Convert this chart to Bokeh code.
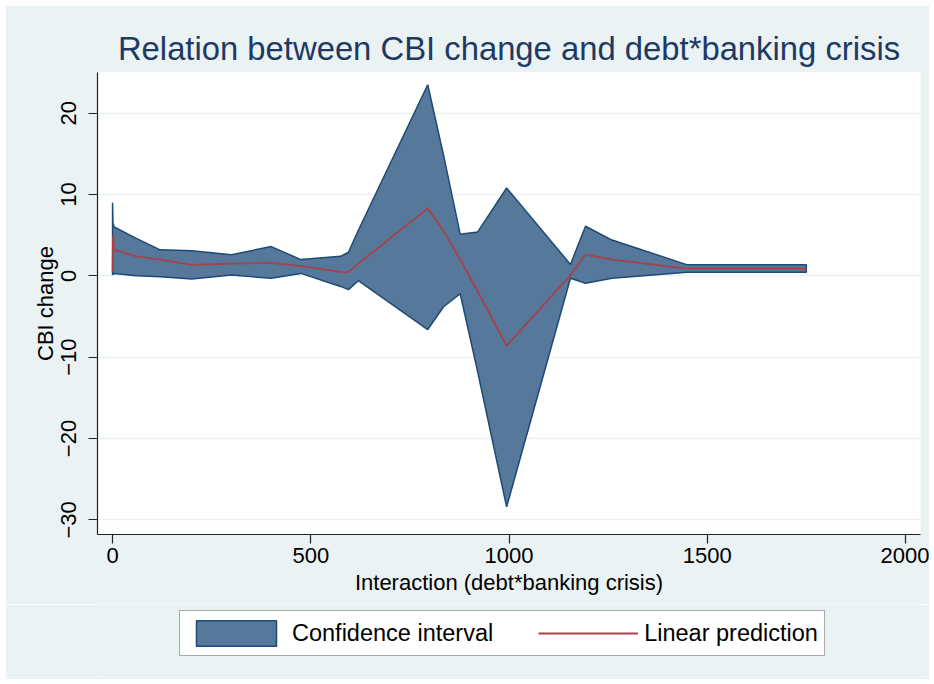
from bokeh.plotting import figure
from bokeh.models import Range1d, FixedTicker, Legend, LegendItem
from bokeh.layouts import column
from bokeh.embed import file_html
from bokeh.resources import INLINE

# ---- data ----
interaction = [0, 1, 4, 60, 120, 200, 300, 400, 475, 575, 595, 620,
               795, 835, 877, 921, 994, 1155, 1193, 1260, 1450, 1750]
ci_upper = [9.0, 6.5, 6.0, 4.6, 3.2, 3.1, 2.6, 3.6, 2.0, 2.4, 2.9, 5.6,
            23.5, 14.8, 5.1, 5.4, 10.8, 1.4, 6.1, 4.4, 1.35, 1.35]
ci_lower = [0.1, 0.2, 0.3, 0.0, -0.1, -0.4, 0.1, -0.3, 0.3, -1.3, -1.7, -0.6,
            -6.6, -3.8, -2.2, -11.8, -28.4, -0.3, -0.9, -0.3, 0.45, 0.45]
prediction = [0.5, 5.0, 3.2, 2.4, 2.0, 1.35, 1.5, 1.6, 1.2, 0.5, 0.45, 1.5,
              8.3, 5.5, 2.0, -1.9, -8.6, 0.1, 2.6, 2.0, 0.9, 0.9]

x_ticks = [0, 500, 1000, 1500, 2000]
y_ticks = [-30, -20, -10, 0, 10, 20]

title_text = "Relation between CBI change and debt*banking crisis"
x_label = "Interaction (debt*banking crisis)"
y_label = "CBI change"
series_names = ["Confidence interval", "Linear prediction"]

BG = "#EAF2F3"
FONT = "Liberation Sans"
BAND_FILL = "#55789B"
BAND_LINE = "#1F4A73"
PRED_COLOR = "#A9404A"

p = figure(width=924, height=599, output_backend="svg", toolbar_location=None,
           x_range=Range1d(-38, 2038), y_range=Range1d(-31.8, 25.0),
           min_border_left=92, min_border_right=9, min_border_top=67,
           min_border_bottom=70)
p.margin = (5, 5, 0, 5)
p.background_fill_color = "white"
p.border_fill_color = BG
p.outline_line_color = None

# confidence band as a polygon (upper edge forward, lower edge back)
band_x = interaction + interaction[::-1]
band_y = ci_upper + ci_lower[::-1]
p.patch(band_x, band_y, fill_color=BAND_FILL, fill_alpha=1.0,
        line_color=BAND_LINE, line_width=1.5)
p.line(interaction, prediction, line_color=PRED_COLOR, line_width=1.8)

# title
p.title.text = title_text
p.title.align = "center"
p.title.text_font = FONT
p.title.text_font_size = "32.8px"
p.title.text_font_style = "normal"
p.title.text_color = "#1E3A64"
p.title.standoff = 12

# axes
for ax in (p.xaxis[0], p.yaxis[0]):
    ax.axis_line_color = "#222222"
    ax.axis_line_width = 1.2
    ax.major_tick_line_color = "#222222"
    ax.major_tick_line_width = 1.2
    ax.major_tick_out = 9
    ax.major_tick_in = 0
    ax.minor_tick_line_color = None
    ax.major_label_text_font = FONT
    ax.major_label_text_font_size = "22px"
    ax.major_label_text_color = "black"
    ax.axis_label_text_font = FONT
    ax.axis_label_text_font_size = "22px"
    ax.axis_label_text_font_style = "normal"
    ax.axis_label_text_color = "black"
    ax.major_label_standoff = 4
    ax.axis_label_standoff = 4

p.xaxis[0].ticker = FixedTicker(ticks=x_ticks)
p.yaxis[0].ticker = FixedTicker(ticks=y_ticks)
p.xaxis[0].axis_label = x_label
p.yaxis[0].axis_label = y_label
p.yaxis[0].major_label_orientation = "vertical"
p.yaxis[0].major_label_standoff = 12
p.yaxis[0].axis_label_standoff = 1

p.xgrid.grid_line_color = None
p.ygrid.grid_line_color = BG
p.ygrid.grid_line_width = 1.5

# legend strip below the plot; its key renderers reuse the series but the
# strip's ranges keep them out of view, so only the legend keys show
q = figure(width=924, height=75, output_backend="svg", toolbar_location=None,
           x_range=Range1d(5000, 6000), y_range=Range1d(100, 200),
           x_axis_type=None, y_axis_type=None, min_border=0)
q.margin = (0, 5, 5, 5)
q.background_fill_color = BG
q.border_fill_color = BG
q.outline_line_color = None
q.xgrid.grid_line_color = None
q.ygrid.grid_line_color = None
key_band = q.patch(band_x, band_y, fill_color=BAND_FILL, fill_alpha=1.0,
                   line_color=BAND_LINE, line_width=1.5)
key_pred = q.line(interaction, prediction, line_color=PRED_COLOR, line_width=1.8)

legend = Legend(items=[LegendItem(label=series_names[0], renderers=[key_band]),
                       LegendItem(label=series_names[1], renderers=[key_pred])],
                orientation="horizontal", location=(82, 23),
                glyph_width=100, glyph_height=32, label_standoff=6,
                spacing=45, padding=6, margin=0,
                label_text_font=FONT, label_text_font_size="23.5px",
                label_text_color="black",
                border_line_color="#555555", border_line_width=1.5,
                background_fill_color="white", background_fill_alpha=1.0)
q.add_layout(legend, "center")

layout = column(p, q, spacing=0)
open("out.html", "w").write(file_html(layout, INLINE))
